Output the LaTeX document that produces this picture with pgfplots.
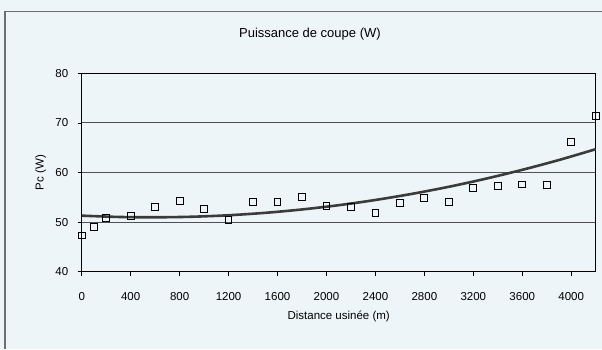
\documentclass[border=0pt]{standalone}
\usepackage{fontspec}
\setmainfont{Liberation Sans}
\usepackage{pgfplots}
\pgfplotsset{compat=1.18}
\definecolor{bgpaper}{RGB}{238,245,248}
\definecolor{gridgray}{RGB}{80,80,80}
\definecolor{trendgray}{RGB}{58,60,60}
\definecolor{framegray}{RGB}{110,110,110}
\begin{document}
\begin{tikzpicture}[x=1pt,y=1pt]
\useasboundingbox (0,0) rectangle (602,349);
\fill[bgpaper] (0,0) rectangle (602,349);
\draw[framegray, line width=1.2pt] (5,0) -- (5,337.3) -- (602,337.3);
\begin{axis}[
  at={(81.7pt,77.3pt)}, anchor=south west,
  scale only axis, width=514pt, height=198.4pt,
  xmin=0, xmax=4200, ymin=40, ymax=80,
  xtick={0,400,...,4000}, ytick={40,50,...,80},
  xtick pos=bottom, ytick pos=left,
  tick align=outside, major tick length=4pt,
  ymajorgrids, grid style={gridgray, line width=0.9pt},
  axis line style={black, line width=0.9pt},
  tick style={black, line width=0.8pt},
  /pgf/number format/assume math mode=true,
  /pgf/number format/1000 sep={},
  tick label style={font=\fontsize{11.5}{13}\selectfont},
  xticklabel style={yshift=-13pt},
  yticklabel style={xshift=-6pt},
  title={Puissance de coupe (W)},
  title style={font=\fontsize{13}{15}\selectfont, at={(axis description cs:0.444,1.167)}, anchor=center},
  xlabel={Distance usinée (m)},
  xlabel style={font=\fontsize{11.5}{13}\selectfont, at={(axis description cs:0.5,-0.228)}, anchor=center},
  ylabel={Pc (W)},
  ylabel style={font=\fontsize{11.5}{13}\selectfont, at={(axis description cs:-0.0798,0.5)}, anchor=center},
  clip=false,
]
% tendance polynomiale (ordre 2)
\addplot[trendgray, line width=2.6pt, smooth] coordinates {
  (0,51.30) (300,51.04) (600,50.97) (900,51.08) (1200,51.38)
  (1500,51.87) (1800,52.55) (2100,53.41) (2400,54.46) (2700,55.70)
  (3000,57.12) (3300,58.74) (3600,60.54) (3900,62.52) (4200,64.70)
};
% mesures
\addplot[only marks, mark=square, mark size=3.4pt, mark options={black, line width=1pt}] coordinates {
  (0,47.3) (100,49.0) (200,50.8) (400,51.3) (600,53.0) (800,54.3)
  (1000,52.6) (1200,50.4) (1400,54.0) (1600,54.1) (1800,55.0) (2000,53.3)
  (2200,53.0) (2400,51.9) (2600,53.9) (2800,54.9) (3000,54.1) (3200,56.8)
  (3400,57.2) (3600,57.6) (3800,57.5) (4000,66.2) (4200,71.45)
};
\end{axis}
\end{tikzpicture}
\end{document}
